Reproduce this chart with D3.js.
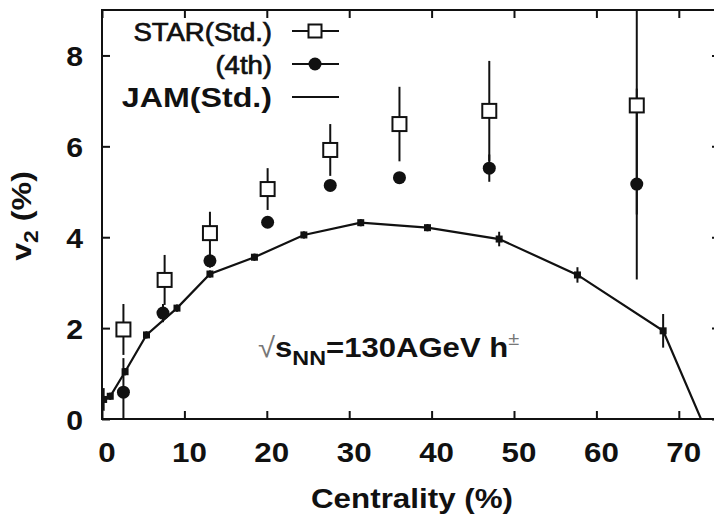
<!DOCTYPE html>
<html>
<head>
<meta charset="utf-8">
<script src="https://cdn.jsdelivr.net/npm/d3@7"></script>
<style>
  html, body { margin: 0; padding: 0; background: #fff; }
  svg { display: block; }
  text { font-family: "Liberation Sans", Arial, Helvetica, sans-serif; font-weight: bold; fill: #111; }
</style>
</head>
<body>
<div id="chart"></div>
<script>
// STAR standard-method v2 (open squares)
const starX = [2.6, 7.6, 13.1, 20.1, 27.7, 36.1, 47.0, 64.9];
const starV2 = [1.97, 3.06, 4.09, 5.06, 5.92, 6.49, 6.78, 6.90];
const starErr = [0.56, 0.55, 0.47, 0.46, 0.57, 0.82, 1.1, 2.4];

// STAR 4th-order cumulant v2 (filled circles)
const fourthX = [2.6, 7.4, 13.1, 20.1, 27.7, 36.1, 47.0, 64.9];
const fourthV2 = [0.59, 2.33, 3.48, 4.33, 5.14, 5.31, 5.52, 5.17];
const fourthErr = [0.75, 0.2, 0.15, 0.1, 0.1, 0.12, 0.3, 2.1];

// JAM model, standard method
const jamX = [0.2, 1.0, 2.8, 5.4, 9.1, 13.1, 18.5, 24.5, 31.4, 39.5, 48.2, 57.7, 68.1, 74.0];
const jamV2 = [0.43, 0.5, 1.04, 1.85, 2.44, 3.19, 3.56, 4.05, 4.32, 4.21, 3.96, 3.17, 1.94, -0.55];
const jamErr = [0.25, 0.08, 0.08, 0.08, 0.08, 0.08, 0.08, 0.08, 0.08, 0.08, 0.16, 0.17, 0.37, 0.3];

const xTicks = [0, 10, 20, 30, 40, 50, 60, 70];
const yTicks = [0, 2, 4, 6, 8];

const width = 714, height = 517;
const frame = { left: 102, right: 720, top: 10, bottom: 419 };

const x = d3.scaleLinear().domain([0, 75]).range([frame.left, frame.right]);
const y = d3.scaleLinear().domain([0, 9]).range([frame.bottom, frame.top]);

const svg = d3.select("#chart").append("svg")
  .attr("width", width)
  .attr("height", height);

svg.append("defs").append("clipPath")
  .attr("id", "plot-clip")
  .append("rect")
  .attr("x", frame.left)
  .attr("y", frame.top)
  .attr("width", frame.right - frame.left)
  .attr("height", frame.bottom - frame.top);

// text group, glyphs stretched a little horizontally around the anchor
function label(px, py, anchor, opts) {
  const o = Object.assign({ size: 27, sx: 1.1, weight: "bold", rotate: 0, stroke: 0 }, opts);
  const t = svg.append("g")
    .attr("transform", `translate(${px},${py})` + (o.rotate ? ` rotate(${o.rotate})` : "") + ` scale(${o.sx},1)`)
    .append("text")
    .attr("text-anchor", anchor)
    .style("font-weight", o.weight)
    .style("font-size", o.size + "px");
  if (o.stroke) t.style("stroke", "#111").style("stroke-width", o.stroke);
  return t;
}

// axes: ticks point inward, mirrored on top/right
const tickLen = 8;
const axisBottom = d3.axisBottom(x).tickValues(xTicks).tickSize(-tickLen).tickFormat("");
const axisTop = d3.axisTop(x).tickValues(xTicks).tickSize(-tickLen).tickFormat("");
const axisLeft = d3.axisLeft(y).tickValues(yTicks).tickSize(-tickLen).tickFormat("");
const axisRight = d3.axisRight(y).tickValues(yTicks).tickSize(-tickLen).tickFormat("");

[[axisBottom, `translate(0,${frame.bottom})`], [axisTop, `translate(0,${frame.top})`],
 [axisLeft, `translate(${frame.left},0)`], [axisRight, `translate(${frame.right},0)`]]
  .forEach(([ax, tr]) => {
    const g = svg.append("g").attr("transform", tr).call(ax);
    g.select(".domain").remove();
    g.selectAll("line").attr("stroke", "#111").attr("stroke-width", 2);
  });

svg.append("rect")
  .attr("x", frame.left)
  .attr("y", frame.top)
  .attr("width", frame.right - frame.left)
  .attr("height", frame.bottom - frame.top)
  .attr("fill", "none")
  .attr("stroke", "#111")
  .attr("stroke-width", 2);

xTicks.forEach(t => label(x(t) + 5, 462, "middle", { size: 28, sx: 1.12 }).text(t));
yTicks.forEach(t => label(83, y(t) + 11, "end", { size: 27, sx: 1.12 }).text(t));

label(412, 508, "middle", { size: 28, sx: 1.12 }).text("Centrality (%)");

const yl = label(31, 216, "middle", { size: 28, sx: 1.15, rotate: -90 });
yl.append("tspan").text("v");
yl.append("tspan").attr("dy", 7).style("font-size", "20px").text("2");
yl.append("tspan").attr("dy", -7).text(" (%)");

// data layer
const plot = svg.append("g").attr("clip-path", "url(#plot-clip)");

function errorBars(xs, vs, es) {
  plot.append("g").selectAll("line")
    .data(xs.map((d, i) => ({ x: d, v: vs[i], e: es[i] })))
    .enter()
    .append("line")
    .attr("x1", d => x(d.x))
    .attr("x2", d => x(d.x))
    .attr("y1", d => y(d.v - d.e))
    .attr("y2", d => y(d.v + d.e))
    .attr("stroke", "#111")
    .attr("stroke-width", 2);
}

// JAM curve
const jamPts = jamX.map((d, i) => [d, jamV2[i]]);
plot.append("path")
  .datum(jamPts)
  .attr("d", d3.line().x(d => x(d[0])).y(d => y(d[1])))
  .attr("fill", "none")
  .attr("stroke", "#111")
  .attr("stroke-width", 2.2);
errorBars(jamX, jamV2, jamErr);
plot.append("g").selectAll("rect")
  .data(jamPts)
  .enter()
  .append("rect")
  .attr("x", d => x(d[0]) - 3.5)
  .attr("y", d => y(d[1]) - 3.5)
  .attr("width", 7)
  .attr("height", 7)
  .attr("fill", "#111");

// STAR points
errorBars(starX, starV2, starErr);
errorBars(fourthX, fourthV2, fourthErr);

plot.append("g").selectAll("circle")
  .data(fourthX.map((d, i) => [d, fourthV2[i]]))
  .enter()
  .append("circle")
  .attr("cx", d => x(d[0]))
  .attr("cy", d => y(d[1]))
  .attr("r", 6.5)
  .attr("fill", "#111");

plot.append("g").selectAll("rect")
  .data(starX.map((d, i) => [d, starV2[i]]))
  .enter()
  .append("rect")
  .attr("x", d => x(d[0]) - 7)
  .attr("y", d => y(d[1]) - 7)
  .attr("width", 14)
  .attr("height", 14)
  .attr("fill", "#fff")
  .attr("stroke", "#111")
  .attr("stroke-width", 2);

// legend
const legendRows = ["STAR(Std.)", "(4th)", "JAM(Std.)"];
const legendFont = [
  { size: 25.5, sx: 1.08, weight: "normal", stroke: 0.7 },
  { size: 25.5, sx: 1.08, weight: "normal", stroke: 0.7 },
  { size: 28, sx: 1.15, weight: "bold" }
];
legendRows.forEach((name, i) => {
  const ly = 31 + i * 33;
  label(272, ly + 10, "end", legendFont[i]).text(name);
  svg.append("line")
    .attr("x1", 292).attr("x2", 339)
    .attr("y1", ly).attr("y2", ly)
    .attr("stroke", "#111")
    .attr("stroke-width", 2);
  if (i === 0) {
    svg.append("rect")
      .attr("x", 315 - 6.5).attr("y", ly - 6.5)
      .attr("width", 13).attr("height", 13)
      .attr("fill", "#fff").attr("stroke", "#111").attr("stroke-width", 2);
  } else if (i === 1) {
    svg.append("circle")
      .attr("cx", 315).attr("cy", ly).attr("r", 6.5)
      .attr("fill", "#111");
  }
});

// collision energy annotation
const ann = label(258, 357, "start", { size: 28, sx: 1.11 });
ann.append("tspan").style("font-weight", "normal").style("fill", "#777").text("\u221A");
ann.append("tspan").text("s");
ann.append("tspan").attr("dy", 8).style("font-size", "21px").text("NN");
ann.append("tspan").attr("dy", -8).text("=130AGeV h");
ann.append("tspan").attr("dy", -12).style("font-size", "18px")
  .style("font-weight", "normal").style("fill", "#777").text("\u00B1");
</script>
</body>
</html>
